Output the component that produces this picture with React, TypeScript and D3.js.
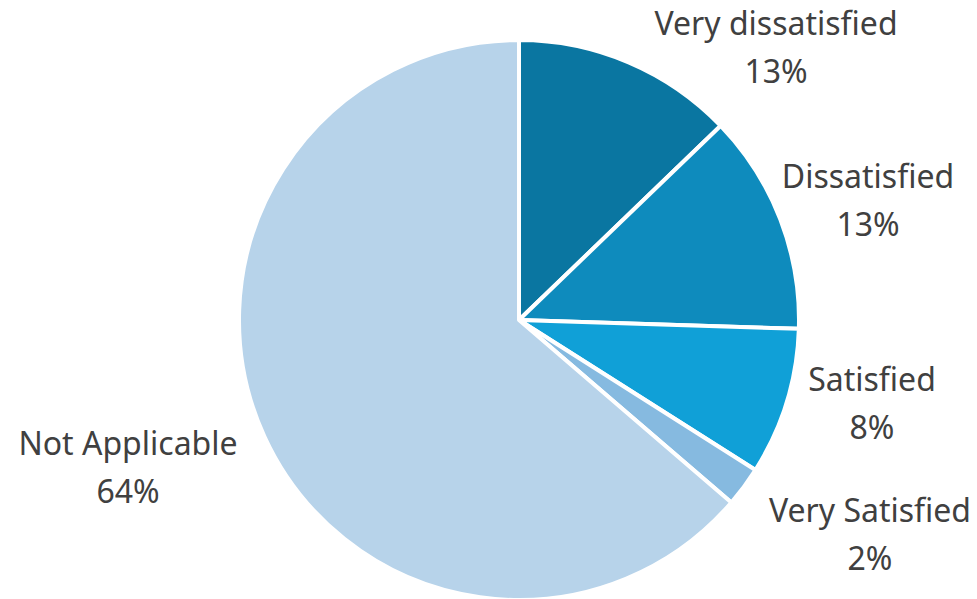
import React from "react";
import * as d3 from "d3";

const categories = ["Very dissatisfied", "Dissatisfied", "Satisfied", "Very Satisfied", "Not Applicable"];
const values = [12.8, 12.7, 8.5, 2.3, 63.7];
const percentLabels = ["13%", "13%", "8%", "2%", "64%"];
const colors = ["#0A76A1", "#0E8BBD", "#10A0D7", "#86BAE0", "#B7D3EA"];

// label anchor (center x, first-line baseline y) in layout pixels
const labelLayout: [number, number][] = [
  [776, 35],
  [868, 188],
  [872, 391],
  [870, 522],
  [128, 455],
];

const W = 977;
const H = 599;
const cx = 519;
const cy = 320;
const R = 280;

export default function App() {
  const pie = d3.pie<number>().sort(null).value((d) => d)(values);
  const arc = d3.arc<d3.PieArcDatum<number>>().innerRadius(0).outerRadius(R);
  return (
    <svg width={W} height={H} style={{ position: "absolute", left: 0, top: 0 }}>
      <rect width={W} height={H} fill="#fff" />
      <g transform={`translate(${cx},${cy})`}>
        {pie.map((p, i) => (
          <path key={i} d={arc(p) || ""} fill={colors[i]} stroke="#fff" strokeWidth={4} strokeLinejoin="round" />
        ))}
      </g>
      {categories.map((c, i) => (
        <text
          key={c}
          x={labelLayout[i][0]}
          y={labelLayout[i][1]}
          textAnchor="middle"
          fontFamily="'Noto Sans', sans-serif"
          fontSize={32}
          fill="#404040"
        >
          <tspan x={labelLayout[i][0]}>{c}</tspan>
          <tspan x={labelLayout[i][0]} dy={48}>{percentLabels[i]}</tspan>
        </text>
      ))}
    </svg>
  );
}
